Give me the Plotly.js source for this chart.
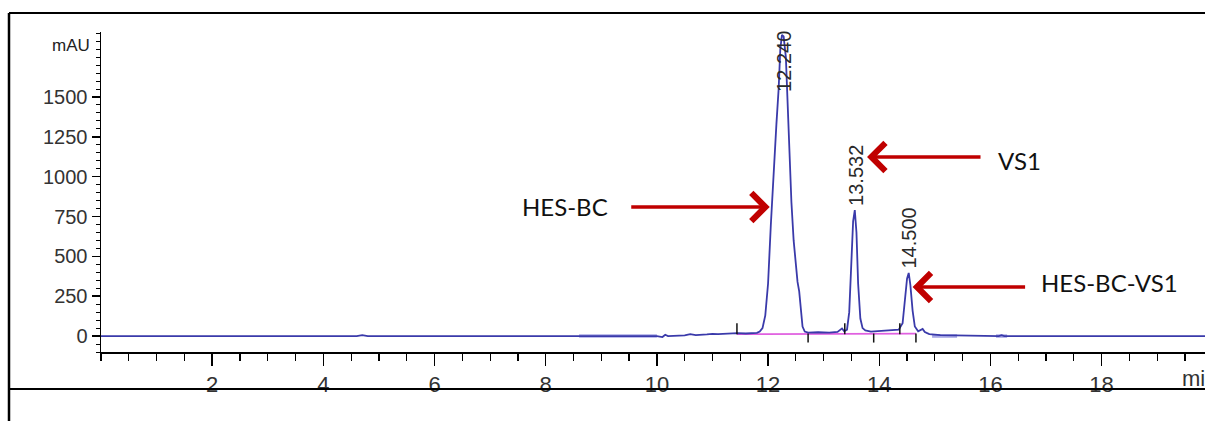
<!DOCTYPE html>
<html>
<head>
<meta charset="utf-8">
<script src="https://cdn.plot.ly/plotly-3.0.1.min.js"></script>
<style>html,body{margin:0;padding:0;background:#fff;}#chart{width:1205px;height:421px;}</style>
</head>
<body>
<div id="chart"></div>
<script>
// Chromatogram signal (time in min, absorbance in mAU)
const timeMin = [0, 4.6, 4.7, 4.8, 8.6, 9.5, 10.0, 10.1, 10.15, 10.2, 10.3, 10.5, 10.6, 10.7, 10.9, 11.0, 11.1, 11.3, 11.45, 11.6, 11.8, 11.85, 11.9, 11.95, 12.0, 12.05, 12.1, 12.15, 12.19, 12.22, 12.25, 12.28, 12.32, 12.35, 12.38, 12.42, 12.46, 12.5, 12.53, 12.56, 12.59, 12.62, 12.66, 12.72, 12.9, 13.1, 13.25, 13.3, 13.33, 13.37, 13.42, 13.46, 13.5, 13.53, 13.56, 13.59, 13.62, 13.66, 13.7, 13.75, 13.85, 14.0, 14.2, 14.35, 14.42, 14.46, 14.5, 14.53, 14.56, 14.6, 14.64, 14.7, 14.75, 14.78, 14.82, 14.9, 15.1, 15.4, 16.15, 16.2, 16.25, 19.86];
const signalMAU = [0, 0, 6, 0, 0, 0, 0, -6, 8, 0, 2, 4, 12, 6, 10, 14, 12, 16, 18, 16, 20, 28, 50, 130, 330, 700, 1050, 1330, 1550, 1800, 1890, 1880, 1750, 1500, 1150, 840, 600, 420, 340, 280, 150, 60, 28, 22, 24, 22, 26, 40, 48, 30, 40, 150, 480, 720, 790, 650, 330, 110, 50, 35, 28, 32, 36, 40, 80, 220, 360, 396, 320, 160, 60, 30, 40, 45, 25, 12, 6, 3, 0, 6, 0, 0];

// Highlighted (lighter) baseline segments: start/end times
const highlightStart = [8.6, 14.95, 16.1];
const highlightEnd = [10.0, 15.4, 16.3];

// Integration events
const eventTimes = [11.44, 12.72, 13.38, 13.90, 14.37, 14.66];
const eventDirection = [1, -1, 1, -1, 1, -1];
const integrationBaseStart = 11.44;
const integrationBaseEnd = 14.66;
const integrationBaseLevel = 12;

// Peak labels (retention times)
const peakLabels = ["12.240", "13.532", "14.500"];
const peakTimes = [12.240, 13.532, 14.500];

// Arrow callouts
const calloutText = ["HES-BC", "VS1", "HES-BC-VS1"];
const calloutTipTime = [12.03, 13.78, 14.60];
const calloutTipMAU = [810, 1124, 308];

// Tick labels
const xTickVals = [2, 4, 6, 8, 10, 12, 14, 16, 18];
const yTickVals = [0, 250, 500, 750, 1000, 1250, 1500];

const X_RANGE = [0, 19.86];
const Y_RANGE = [-100, 1908];
const PLOT_H = 320, PLOT_W = 1104;
const pxPerMAU = PLOT_H / (Y_RANGE[1] - Y_RANGE[0]);

// highlight trace
const hx = [], hy = [];
highlightStart.forEach((s, i) => { hx.push(s, highlightEnd[i], null); hy.push(0, 0, null); });

// event marks
const ex = [], ey = [];
eventTimes.forEach((t, i) => {
  const d = eventDirection[i];
  const lenMAU = 12 / pxPerMAU;
  if (d > 0) { ex.push(t, t, null); ey.push(integrationBaseLevel, integrationBaseLevel + lenMAU * 0.9, null); }
  else { ex.push(t, t, null); ey.push(integrationBaseLevel + 4, integrationBaseLevel - lenMAU * 0.7, null); }
});

const traces = [
  { x: hx, y: hy, mode: 'lines', line: { color: '#a9a9e6', width: 3.5 }, hoverinfo: 'skip', showlegend: false },
  { x: [integrationBaseStart, integrationBaseEnd], y: [integrationBaseLevel, integrationBaseLevel + 3], mode: 'lines', line: { color: '#e060e0', width: 1.8 }, showlegend: false },
  { x: timeMin, y: signalMAU, mode: 'lines', line: { color: '#3a3aaa', width: 1.8 }, showlegend: false },
  { x: ex, y: ey, mode: 'lines', line: { color: '#111', width: 1.5 }, showlegend: false }
];

const annotations = [];
// peak labels
peakTimes.forEach((t, i) => {
  let apex = 0;
  timeMin.forEach((tt, j) => { if (Math.abs(tt - t) < 0.08) apex = Math.max(apex, signalMAU[j]); });
  const labelLenMAU = 64 / pxPerMAU;
  const yPos = Math.min(apex, Y_RANGE[1] - labelLenMAU);
  annotations.push({ x: t, y: yPos, xref: 'x', yref: 'y', text: peakLabels[i], showarrow: false, textangle: -90,
    xanchor: 'center', yanchor: 'bottom', yshift: 2, xshift: 2,
    font: { family: 'Liberation Sans, Arial, sans-serif', size: 20, color: '#2a2a2a' } });
});
// arrows
const tailOffsets = [-140, 115, 114];
calloutTipTime.forEach((t, i) => {
  annotations.push({ x: t, y: calloutTipMAU[i], xref: 'x', yref: 'y', text: '', showarrow: true,
    ax: tailOffsets[i], ay: 0, arrowhead: 4, arrowsize: 1.55, arrowwidth: 3.5, arrowcolor: '#c00000', standoff: 0 });
});
// callout texts
const textPx = [[565, 206], [1019, 160], [1109, 282]];
calloutText.forEach((s, i) => {
  annotations.push({ x: (textPx[i][0] - 101) / PLOT_W, y: (352 - textPx[i][1]) / PLOT_H, xref: 'paper', yref: 'paper',
    text: s, showarrow: false, xanchor: 'center', yanchor: 'middle',
    font: { family: 'Lato, Carlito, Calibri, sans-serif', size: 24, color: '#111' } });
});
annotations.push({ x: (71 - 101) / PLOT_W, y: (352 - 45) / PLOT_H, xref: 'paper', yref: 'paper', text: 'mAU', showarrow: false,
  xanchor: 'center', yanchor: 'middle', font: { family: 'Liberation Sans Narrow, Arial Narrow, sans-serif', size: 17, color: '#222' } });
annotations.push({ x: (1180 - 101) / PLOT_W, y: (352 - 378) / PLOT_H, xref: 'paper', yref: 'paper', text: 'min', showarrow: false,
  xanchor: 'left', yanchor: 'middle', font: { family: 'Liberation Sans Narrow, Arial Narrow, sans-serif', size: 22, color: '#333' } });

const px2paperX = p => (p - 101) / PLOT_W;
const px2paperY = p => (352 - p) / PLOT_H;
const shapes = [
  { type: 'line', xref: 'paper', yref: 'paper', x0: px2paperX(9), x1: 1.0, y0: px2paperY(13), y1: px2paperY(13), line: { color: '#000', width: 2 } },
  { type: 'line', xref: 'paper', yref: 'paper', x0: px2paperX(9), x1: px2paperX(9), y0: px2paperY(13), y1: px2paperY(421), line: { color: '#000', width: 2.5 } },
  { type: 'line', xref: 'paper', yref: 'paper', x0: px2paperX(9), x1: 1.0, y0: px2paperY(389), y1: px2paperY(389), line: { color: '#000', width: 2 } }
];

const layout = {
  width: 1205, height: 421,
  margin: { l: 101, r: 0, t: 32, b: 69, pad: 0 },
  paper_bgcolor: '#fff', plot_bgcolor: '#fff',
  showlegend: false,
  xaxis: {
    range: X_RANGE, showgrid: false, zeroline: false, showline: true, linecolor: '#000', linewidth: 1.5,
    tickmode: 'array', tickvals: xTickVals, ticks: 'outside', ticklen: 12, tickwidth: 1.5, tickcolor: '#000',
    tickfont: { family: 'Liberation Sans Narrow, Arial Narrow, sans-serif', size: 22, color: '#333' },
    minor: { tickmode: 'linear', tick0: 0, dtick: 0.5, ticks: 'outside', ticklen: 7, tickwidth: 1.2, tickcolor: '#000', showgrid: false }
  },
  yaxis: {
    range: Y_RANGE, showgrid: false, zeroline: false, showline: true, linecolor: '#000', linewidth: 1.5,
    tickmode: 'array', tickvals: yTickVals, ticks: 'outside', ticklen: 8, tickwidth: 1.5, tickcolor: '#000',
    tickfont: { family: 'Liberation Sans Narrow, Arial Narrow, sans-serif', size: 20, color: '#333' },
    minor: { tickmode: 'linear', tick0: 0, dtick: 50, ticks: 'outside', ticklen: 4, tickwidth: 1, tickcolor: '#000', showgrid: false }
  },
  annotations: annotations,
  shapes: shapes
};

Plotly.newPlot('chart', traces, layout, { displayModeBar: false, staticPlot: true });
</script>
</body>
</html>
